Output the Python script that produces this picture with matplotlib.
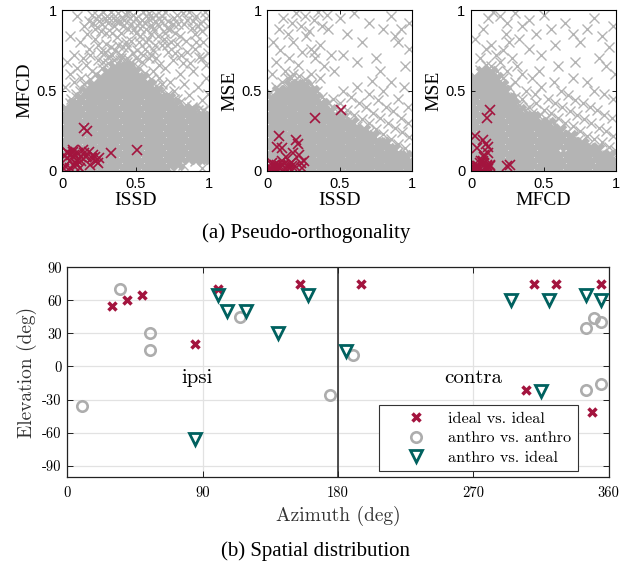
import numpy as np
import matplotlib
matplotlib.use('Agg')
import matplotlib.pyplot as plt

plt.rcParams['font.family'] = ['Liberation Sans', 'DejaVu Sans']

GRAY = '#B4B4B4'
RED = '#A3143E'
TEAL = '#00615F'
CGRAY = '#ADADAD'

# ---------------- (a) data: dense core rows (y%, [x%...]) and sparse points (x%, y%)
ODD = [1, 6, 11, 16, 21, 26, 31, 36, 41, 46, 51, 56, 61, 66, 71, 76, 81, 86, 91, 96, 99]
EVEN = [3, 8, 13, 18, 23, 28, 33, 38, 43, 48, 53, 58, 63, 68, 73, 78, 83, 88, 93, 98]

core1 = [
    (1, [1, 6, 11, 16, 21, 26, 31, 36, 41, 46, 51, 56, 61, 66, 70]),
    (5, [3, 8, 13, 18, 23, 28, 33, 38, 43, 48, 53, 58, 63, 68, 73, 78]),
    (9, ODD), (13, EVEN), (17, ODD), (21, EVEN), (25, ODD), (29, EVEN), (33, ODD),
    (37, [3, 8, 13, 18, 23, 28, 33, 38, 43, 48, 53, 58, 63, 68, 73, 78, 83, 88]),
    (41, [8, 11, 16, 21, 26, 31, 36, 41, 46, 51, 56, 61, 66, 71, 76]),
    (45, [13, 18, 23, 28, 33, 38, 43, 48, 53, 58, 63, 68, 72]),
    (49, [16, 21, 26, 31, 36, 41, 46, 51, 56, 61, 64]),
    (53, [21, 26, 31, 36, 41, 46, 51, 56, 59]),
    (57, [26, 31, 36, 41, 46, 51, 54]),
    (61, [31, 36, 41, 46, 49]),
    (64, [36, 41, 45]),
]
sparse1 = [
    (20, 97), (25, 93), (28, 99), (32, 95), (35, 90), (38, 98), (42, 94), (45, 88), (48, 97), (52, 92),
    (55, 99), (58, 95), (61, 90), (64, 97), (67, 93), (70, 99), (73, 88), (76, 95), (79, 91), (82, 98),
    (85, 94), (88, 89), (91, 96), (94, 92), (97, 99), (15, 90), (10, 96), (22, 88), (30, 86), (40, 86),
    (50, 86), (60, 85), (70, 86), (80, 84), (90, 85), (99, 90), (33, 99), (44, 99), (50, 95), (57, 88),
    (63, 93), (36, 94), (47, 91), (53, 89), (41, 90), (27, 91), (31, 92), (39, 93), (46, 95), (54, 94),
    (59, 98), (66, 90), (72, 93), (78, 97), (86, 99), (92, 90), (24, 96), (18, 93), (62, 88), (75, 91),
    (17, 85), (21, 92), (26, 87), (29, 95), (34, 86), (37, 93), (43, 97), (49, 88), (56, 92), (61, 95),
    (68, 96), (71, 89), (77, 86), (83, 91), (89, 93), (95, 87), (98, 95),
    (12, 80), (18, 76), (22, 82), (26, 74), (30, 79), (34, 72), (37, 83), (41, 77), (44, 70), (47, 81),
    (51, 75), (54, 68), (57, 80), (60, 72), (63, 78), (66, 66), (69, 82), (72, 74), (75, 69), (78, 79),
    (81, 72), (84, 81), (87, 67), (90, 76), (93, 71), (96, 80), (99, 73), (8, 72), (5, 84), (28, 68),
    (65, 84), (85, 74), (39, 69), (48, 73), (56, 76), (43, 80), (33, 77), (24, 78), (36, 75), (45, 77),
    (52, 80), (59, 70), (62, 75), (68, 78), (31, 71), (50, 70), (55, 72), (46, 67), (40, 72), (74, 80),
    (14, 70), (19, 72), (29, 74), (38, 78), (53, 84), (58, 82), (64, 70), (71, 78), (77, 73), (82, 67),
    (91, 80), (95, 70), (98, 66),
    (2, 52), (5, 60), (8, 55), (3, 68), (10, 64), (13, 58), (16, 66), (20, 62), (24, 69), (6, 45),
    (2, 40), (9, 48), (62, 62), (66, 58), (70, 64), (73, 55), (76, 50), (80, 60), (83, 54), (86, 47),
    (89, 62), (92, 52), (95, 44), (98, 58), (78, 45), (88, 40), (96, 38), (68, 54), (99, 48),
    (2, 38), (5, 42), (9, 46), (12, 50), (15, 54), (19, 57), (23, 60), (27, 64), (31, 67), (35, 69),
    (40, 70), (44, 68), (48, 66), (52, 64), (56, 61), (60, 57), (64, 53), (68, 50), (72, 48), (76, 45),
    (80, 43), (84, 41), (88, 39), (92, 38), (96, 37), (99, 36),
    (82, 4), (90, 6), (95, 2), (72, 2),
]

core2 = [
    (1, ODD), (5, EVEN),
    (9, [1, 6, 11, 16, 21, 26, 31, 36, 41, 46, 51, 56, 61, 66, 71, 76, 81, 86, 91, 95]),
    (13, [3, 8, 13, 18, 23, 28, 33, 38, 43, 48, 53, 58, 63, 68, 73, 78, 83, 87]),
    (17, [1, 6, 11, 16, 21, 26, 31, 36, 41, 46, 51, 56, 61, 66, 71, 76, 80]),
    (21, [3, 8, 13, 18, 23, 28, 33, 38, 43, 48, 53, 58, 63, 68, 72]),
    (25, [1, 6, 11, 16, 21, 26, 31, 36, 41, 46, 51, 56, 61, 66]),
    (29, [3, 8, 13, 18, 23, 28, 33, 38, 43, 48, 53, 58]),
    (33, [1, 6, 11, 16, 21, 26, 31, 36, 41, 46, 51]),
    (37, [3, 8, 13, 18, 23, 28, 33, 38, 43]),
    (41, [1, 6, 11, 16, 21, 26, 31, 36, 38]),
    (45, [3, 8, 13, 18, 23, 28, 33]),
    (49, [8, 13, 18, 23, 28, 31]),
    (53, [16, 21, 25]),
]
sparse2 = [
    (45, 45), (50, 42), (55, 38), (60, 35), (65, 32), (70, 30), (75, 26), (80, 23), (85, 20), (90, 17),
    (95, 14), (99, 10), (52, 50), (58, 46), (63, 42), (68, 40), (73, 36), (78, 33), (83, 30), (88, 27),
    (93, 24), (98, 21), (62, 52), (70, 48), (76, 44), (82, 40), (87, 37), (92, 33), (97, 30), (80, 50),
    (90, 45), (97, 40), (85, 55), (94, 52), (72, 56),
    (3, 60), (6, 68), (9, 75), (12, 62), (15, 70), (18, 80), (21, 66), (24, 74), (27, 84), (30, 60),
    (33, 70), (36, 78), (39, 65), (42, 88), (8, 88), (11, 95), (14, 85), (17, 92), (20, 98), (23, 90),
    (26, 96), (29, 87), (32, 94), (35, 99), (38, 90), (41, 97), (30, 76), (32, 74), (4, 80), (16, 58),
    (36, 58), (44, 72), (46, 62),
    (50, 95), (55, 85), (60, 98), (65, 80), (70, 92), (75, 70), (80, 88), (85, 96), (88, 84), (90, 80),
    (92, 88), (95, 65), (98, 92), (62, 68), (52, 72), (78, 62), (98, 76),
    (2, 49), (6, 52), (10, 55), (14, 58), (18, 60), (22, 59), (26, 57), (30, 54), (34, 50), (38, 46),
    (42, 42), (46, 39), (50, 37), (54, 34), (58, 31), (62, 28), (66, 26), (70, 24), (74, 21), (78, 18),
    (82, 16), (86, 14), (90, 12), (94, 9), (98, 7),
]

core3 = [
    (1, ODD), (5, EVEN),
    (9, [1, 6, 11, 16, 21, 26, 31, 36, 41, 46, 51, 56, 61, 66, 71, 76, 81, 86, 91, 95]),
    (13, [3, 8, 13, 18, 23, 28, 33, 38, 43, 48, 53, 58, 68, 73, 78, 83, 87]),
    (17, [1, 6, 11, 16, 21, 26, 31, 36, 41, 46, 51, 56, 61, 66, 71, 76]),
    (21, [3, 8, 13, 18, 23, 28, 33, 38, 43, 48, 53, 58, 63, 68]),
    (25, [1, 6, 11, 16, 21, 26, 31, 36, 41, 46, 51, 56, 61]),
    (29, [3, 8, 13, 18, 23, 28, 33, 38, 43, 48, 53]),
    (33, [1, 6, 11, 16, 21, 26, 31, 36, 41, 43]),
    (37, [3, 8, 13, 18, 23, 28, 33]),
    (41, [1, 6, 11, 16, 21, 26, 28]),
    (45, [3, 8, 13, 18, 23, 26]),
    (49, [1, 6, 11, 16, 21, 23]),
    (53, [1, 6, 11, 16, 21]),
    (57, [3, 8, 13, 17]),
    (61, [8, 13]),
]
sparse3 = [
    (35, 45), (40, 40), (45, 42), (50, 38), (55, 36), (60, 33), (65, 30), (70, 28), (75, 25), (80, 22),
    (85, 20), (90, 18), (95, 15), (99, 13), (38, 50), (44, 48), (48, 52), (53, 45), (58, 42), (63, 40),
    (68, 37), (73, 35), (78, 32), (83, 30), (88, 27), (93, 25), (98, 22), (30, 55), (25, 62), (28, 70),
    (22, 75), (26, 80), (20, 68), (17, 72), (14, 78), (24, 85), (32, 65), (35, 60), (42, 58), (47, 62),
    (57, 55), (62, 50), (67, 47), (72, 44), (77, 42), (82, 40), (87, 38), (92, 35), (97, 33), (85, 50),
    (92, 48), (98, 45), (80, 55), (70, 58), (6, 70), (10, 76), (3, 82), (8, 88), (12, 95), (15, 99),
    (20, 96), (25, 92), (30, 98), (35, 90), (40, 94), (45, 85), (50, 97), (55, 88), (58, 78), (48, 72),
    (40, 76), (33, 82), (65, 92), (70, 85), (75, 80), (80, 88), (85, 95), (90, 84), (95, 77), (98, 90),
    (88, 70), (93, 65), (72, 68), (60, 65), (99, 60),
    (2, 59), (6, 63), (10, 66), (14, 65), (18, 62), (22, 58), (26, 52), (30, 46), (33, 41), (37, 38),
    (42, 36), (47, 34), (52, 32), (57, 30), (62, 27), (66, 24), (70, 22), (74, 19), (78, 16), (82, 15),
    (86, 13), (90, 11), (94, 10), (98, 8),
]

# ideal-vs-ideal pairs: (ISSD, MFCD, MSE)
red_issd = [0.51, 0.33, 0.15, 0.17, 0.08, 0.10, 0.20, 0.21, 0.18, 0.22, 0.13, 0.23, 0.24, 0.07,
            0.04, 0.06, 0.11, 0.03, 0.05, 0.09, 0.12, 0.02, 0.14, 0.16, 0.01, 0.07, 0.10, 0.19,
            0.05, 0.13, 0.08, 0.03, 0.15, 0.25]
red_mfcd = [0.13, 0.11, 0.27, 0.25, 0.03, 0.04, 0.08, 0.10, 0.12, 0.09, 0.09, 0.06, 0.05, 0.12,
            0.11, 0.10, 0.11, 0.08, 0.06, 0.05, 0.02, 0.03, 0.13, 0.09, 0.01, 0.13, 0.07, 0.04,
            0.02, 0.06, 0.10, 0.12, 0.11, 0.08]
red_mse = [0.38, 0.33, 0.04, 0.03, 0.22, 0.14, 0.19, 0.17, 0.11, 0.10, 0.09, 0.05, 0.02, 0.15,
           0.03, 0.02, 0.04, 0.05, 0.01, 0.03, 0.02, 0.02, 0.03, 0.05, 0.01, 0.04, 0.06, 0.03,
           0.04, 0.01, 0.02, 0.01, 0.02, 0.06]

# ---------------- (b) data
ideal_az = [30, 40, 50, 85, 100, 155, 195, 305, 310, 325, 349, 355]
ideal_el = [55, 60, 65, 20, 70, 75, 75, -21, 75, 75, -41, 75]
anthro_az = [10, 35, 55, 55, 115, 175, 190, 345, 350, 355, 345, 355]
anthro_el = [-36, 70, 30, 15, 45, -26, 10, 35, 44, 40, -21, -16]
mixed_az = [85, 100, 106, 119, 140, 160, 185, 295, 315, 320, 345, 355]
mixed_el = [-66, 65, 50, 50, 30, 65, 14, 60, -22, 60, 65, 60]

az_ticks = [0, 90, 180, 270, 360]
el_ticks = [-90, -60, -30, 0, 30, 60, 90]

fig = plt.figure(figsize=(6.29, 5.67), dpi=100)
W, H = 629.0, 567.0

top_boxes = [(62.3, 147.0), (267.3, 145.0), (471.0, 145.0)]
panels = [
    (core1, sparse1, red_issd, red_mfcd, 'ISSD', 'MFCD'),
    (core2, sparse2, red_issd, red_mse, 'ISSD', 'MSE'),
    (core3, sparse3, red_mfcd, red_mse, 'MFCD', 'MSE'),
]
for (x0, w), (core, sparse, rx, ry, xl, yl) in zip(top_boxes, panels):
    ax = fig.add_axes([x0 / W, (H - 171) / H, w / W, 161 / H])
    for yv, xs in core:
        xs = np.array(xs) / 100.0
        ax.plot(xs, np.full(len(xs), yv / 100.0), 'x', color=GRAY, ms=8.5, mew=3.6, zorder=1)
    sp = np.array(sparse) / 100.0
    ax.plot(sp[:, 0], sp[:, 1], 'x', color=GRAY, ms=7, mew=1.0, zorder=1.1)
    ax.plot(rx, ry, 'x', color=RED, ms=7, mew=1.2, zorder=3)
    ax.set_xlim(0, 1)
    ax.set_ylim(0, 1)
    ax.set_xticks([0, 0.5, 1], labels=['0', '0.5', '1'])
    ax.set_yticks([0, 0.5, 1], labels=['0', '0.5', '1'])
    ax.tick_params(direction='in', length=3, width=0.6, top=True, right=True,
                   labelsize=10.5, pad=4)
    for s in ax.spines.values():
        s.set_linewidth(0.8)
        s.set_zorder(4)
    ax.set_xlabel(xl, family='Liberation Serif', fontsize=14, labelpad=1)
    ax.set_ylabel(yl, family='Liberation Serif', fontsize=14, labelpad=2)

fig.text(306 / W, 1 - 233 / H, '(a) Pseudo-orthogonality', ha='center', va='center',
         family='Liberation Serif', fontsize=15)

# ---------------- (b)
CM = 'cmr10'
ax = fig.add_axes([67.3 / W, (H - 476.7) / H, 541.4 / W, 209.4 / H])
ax.set_xlim(0, 360)
ax.set_ylim(-100, 90)
ax.grid(True, color='#E2E2E2', lw=0.9)
ax.set_axisbelow(True)
ax.axvline(180, color='#222222', lw=1.1, zorder=1.5)
ax.plot(ideal_az, ideal_el, 'x', color=RED, ms=6.2, mew=2.5, ls='none', label='ideal vs. ideal', zorder=3)
ax.plot(anthro_az, anthro_el, 'o', mfc='none', mec=CGRAY, ms=7.5, mew=1.9, ls='none',
        label='anthro vs. anthro', zorder=3)
ax.plot(mixed_az, mixed_el, 'v', mfc='none', mec=TEAL, ms=9, mew=2.0, ls='none',
        label='anthro vs. ideal', zorder=3)
ax.set_xticks(az_ticks, labels=[str(t) for t in az_ticks], fontfamily=CM, fontsize=10.5)
ax.set_yticks(el_ticks, labels=[str(t) for t in el_ticks], fontfamily=CM, fontsize=10.5)
ax.tick_params(direction='in', length=4, width=0.6, top=True, right=True)
ax.tick_params(axis='x', pad=7)
ax.tick_params(axis='y', pad=4)
for s in ax.spines.values():
    s.set_linewidth(0.9)
    s.set_color('#222222')
ax.set_xlabel('Azimuth (deg)', fontfamily=CM, fontsize=14, color='#333333', labelpad=4)
ax.set_ylabel('Elevation (deg)', fontfamily=CM, fontsize=14, color='#333333', labelpad=4)
ax.text(86, -14.7, 'ipsi', ha='center', va='baseline', fontfamily=CM, fontsize=15)
ax.text(270, -14.7, 'contra', ha='center', va='baseline', fontfamily=CM, fontsize=15)
leg = ax.legend(loc='lower right', bbox_to_anchor=(0.943, 0.027), borderaxespad=0,
                prop={'family': CM, 'size': 11.7}, fancybox=False, framealpha=1,
                edgecolor='#333333', borderpad=0.4, handlelength=3.7, handletextpad=0.15,
                labelspacing=0.3)
leg.get_frame().set_linewidth(0.8)

fig.text(316 / W, 1 - 551 / H, '(b) Spatial distribution', ha='center', va='center',
         family='Liberation Serif', fontsize=15)

fig.savefig('out.png', dpi=100)
